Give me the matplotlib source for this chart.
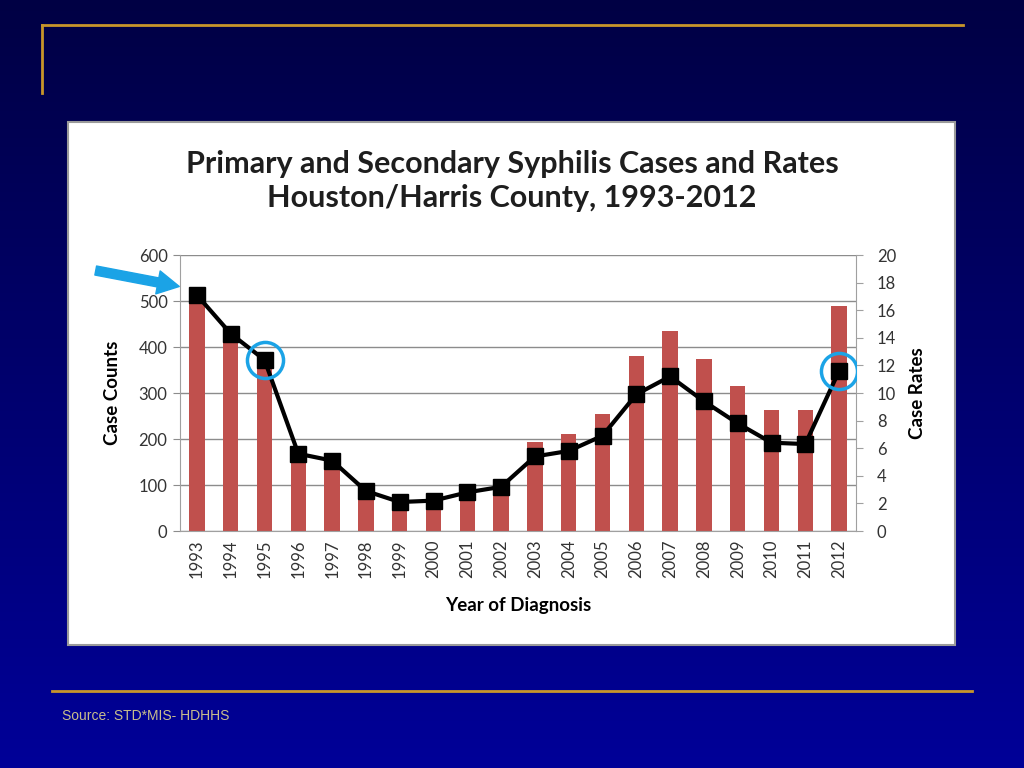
import numpy as np
import matplotlib
matplotlib.use("Agg")
import matplotlib.pyplot as plt
from matplotlib.patches import Rectangle, FancyArrowPatch
from matplotlib.lines import Line2D

years = ["1993", "1994", "1995", "1996", "1997", "1998", "1999", "2000", "2001", "2002",
         "2003", "2004", "2005", "2006", "2007", "2008", "2009", "2010", "2011", "2012"]
case_counts = [510, 425, 355, 160, 150, 85, 60, 60, 80, 90,
               194, 211, 254, 380, 435, 374, 315, 263, 263, 490]
case_rates = [17.1, 14.3, 12.4, 5.6, 5.1, 2.9, 2.1, 2.2, 2.8, 3.2,
              5.4, 5.8, 6.9, 9.9, 11.2, 9.4, 7.8, 6.4, 6.3, 11.6]
highlight_idx = [2, 19]

title = "Primary and Secondary Syphilis Cases and Rates\nHouston/Harris County, 1993-2012"
source = "Source: STD*MIS- HDHHS"

FONT = "Lato"
blue = "#1BA3E6"
gold = "#C8962A"
tickc = "#333333"

fig = plt.figure(figsize=(10.24, 7.68), dpi=100)

# background gradient
bg = fig.add_axes([0, 0, 1, 1], zorder=-5)
grad = np.linspace(0, 1, 256).reshape(-1, 1)
top = np.array([0, 0, 68]) / 255
bot = np.array([0, 0, 152]) / 255
img = top[None, None, :] * (1 - grad[:, :, None]) + bot[None, None, :] * grad[:, :, None]
bg.imshow(img, aspect="auto", extent=[0, 1, 0, 1], origin="upper", zorder=0)
bg.set_xlim(0, 1); bg.set_ylim(0, 1)
bg.axis("off")

# gold lines
bg.add_line(Line2D([42/1024, 963/1024], [1-25/768, 1-25/768], color=gold, lw=2, zorder=2))
bg.add_line(Line2D([42/1024, 42/1024], [1-25/768, 1-93/768], color=gold, lw=2, zorder=2))
bg.add_line(Line2D([52/1024, 972/1024], [1-691/768, 1-691/768], color=gold, lw=2, zorder=2))

# white chart box
bg.add_patch(Rectangle((68/1024, 1-645/768), (955-68)/1024, (645-122)/768,
                       facecolor="white", edgecolor="#9A9A9A", lw=1.5, zorder=3))

ax = fig.add_axes([180/1024, 1-531/768, (856-180)/1024, (531-255)/768])
ax.set_facecolor("none")
x = np.arange(len(years))
ax.bar(x, case_counts, width=0.45, color="#C0504D", zorder=2)
ax.set_ylim(0, 600)
ax.set_xlim(-0.5, len(years) - 0.5)
ax.set_yticks(range(0, 601, 100))
ax.yaxis.grid(True, color="#8C8C8C", lw=1, zorder=0)
ax.set_axisbelow(True)
ax.set_xticks(x)
ax.set_xticklabels(years, rotation=90, fontsize=12, family=FONT, color=tickc)
ax.tick_params(axis="x", length=0, pad=6)
ax.tick_params(axis="y", length=5, color="#8C8C8C", labelsize=12, labelcolor=tickc, pad=4)
for lab in ax.get_yticklabels():
    lab.set_family(FONT)
for s in ["top", "right"]:
    ax.spines[s].set_visible(False)
ax.spines["left"].set_color("#A0A0A0")
ax.spines["bottom"].set_color("#A0A0A0")
ax.set_ylabel("Case Counts", fontsize=13.5, fontweight="bold", family=FONT, labelpad=13)
ax.set_xlabel("Year of Diagnosis", fontsize=13.5, fontweight="bold", family=FONT, labelpad=14)

ax2 = ax.twinx()
ax2.set_ylim(0, 20)
ax2.set_yticks(range(0, 21, 2))
ax2.plot(x, case_rates, color="black", lw=3, marker="s", ms=11, zorder=3)
ax2.plot(x[highlight_idx], np.array(case_rates)[highlight_idx], ls="none", marker="o",
         ms=26, mfc="none", mec=blue, mew=2.5, zorder=4)
ax2.tick_params(axis="y", length=5, color="#A0A0A0", labelsize=12, labelcolor=tickc, pad=10)
for lab in ax2.get_yticklabels():
    lab.set_family(FONT)
for s in ["top", "left", "bottom"]:
    ax2.spines[s].set_visible(False)
ax2.spines["right"].set_color("#A0A0A0")
ax2.set_ylabel("Case Rates", fontsize=13.5, fontweight="bold", family=FONT, labelpad=9)

fig.text(512/1024, 1-181/768, title, ha="center", va="center", fontsize=22,
         fontweight="bold", family=FONT, color="#1E1E1E", linespacing=1.3)

arrow = FancyArrowPatch((93/1024, 1-270/768), (182/1024, 1-287/768), transform=fig.transFigure,
                        arrowstyle="simple,head_length=1.3,head_width=1.4,tail_width=0.55",
                        mutation_scale=12, color=blue, zorder=10)
fig.add_artist(arrow)

fig.text(62/1024, 1-716/768, source, ha="left", va="center", fontsize=10,
         family="Liberation Sans", color="#C8BE8C")

fig.savefig("out.png", dpi=100)
